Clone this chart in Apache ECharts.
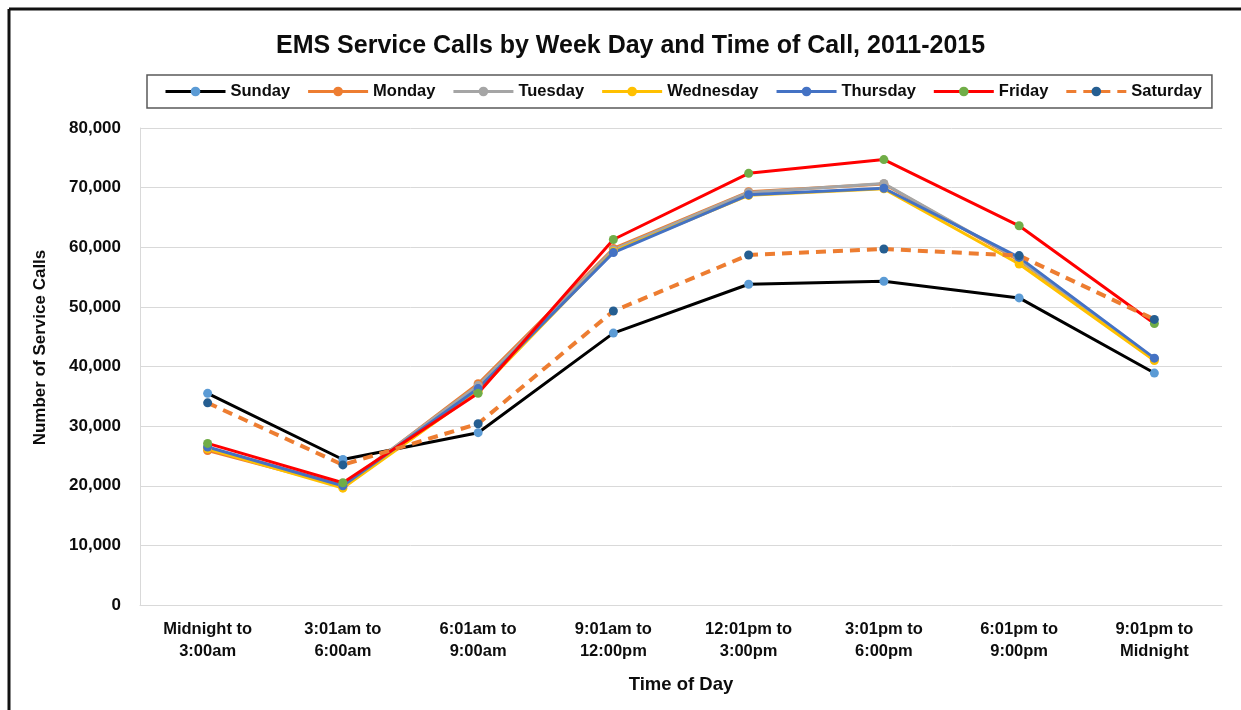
<!DOCTYPE html>
<html>
<head>
<meta charset="utf-8">
<script src="https://cdn.jsdelivr.net/npm/echarts@6/dist/echarts.min.js"></script>
<style>
html,body{margin:0;padding:0;background:#fff;}
#c{width:1241px;height:710px;}
</style>
</head>
<body>
<div id="c"></div>
<script>
const categories = ["Midnight to\n3:00am","3:01am to\n6:00am","6:01am to\n9:00am","9:01am to\n12:00pm","12:01pm to\n3:00pm","3:01pm to\n6:00pm","6:01pm to\n9:00pm","9:01pm to\nMidnight"];
const sunday    = [35500, 24400, 28900, 45600, 53800, 54300, 51500, 38900];
const monday    = [25900, 19900, 37100, 59800, 69300, 70600, 57800, 41200];
const tuesday   = [26400, 20100, 36800, 59600, 69200, 70700, 57900, 41300];
const wednesday = [26200, 19600, 35800, 59300, 68700, 69800, 57200, 41000];
const thursday  = [26500, 20000, 36300, 59100, 68800, 69900, 58300, 41400];
const friday    = [27100, 20500, 35500, 61300, 72400, 74700, 63600, 47200];
const saturday  = [33900, 23500, 30400, 49300, 58700, 59700, 58600, 47900];
const yTicks = [0, 10000, 20000, 30000, 40000, 50000, 60000, 70000, 80000];

const FONT = '"Liberation Sans", Arial, sans-serif';

function mk(name, data, lineColor, markerColor, dashed) {
  return {
    name: name, type: 'line', data: data,
    symbol: 'circle', symbolSize: 9,
    lineStyle: { color: lineColor, width: dashed ? 4 : 3, type: dashed ? [10, 7] : 'solid' },
    itemStyle: { color: markerColor },
    emphasis: { disabled: true },
    animation: false
  };
}

const chart = echarts.init(document.getElementById('c'), null, { renderer: 'canvas' });
chart.setOption({
  backgroundColor: '#fff',
  animation: false,
  textStyle: { fontFamily: FONT },
  title: {
    text: 'EMS Service Calls by Week Day and Time of Call, 2011-2015',
    left: 271, top: 29,
    textStyle: { fontFamily: FONT, fontWeight: 'bold', fontSize: 25, color: '#0d0d0d' }
  },
  legend: {
    left: 147, top: 75,
    padding: [8, 10, 8, 17],
    borderColor: '#595959', borderWidth: 1.5,
    itemWidth: 60, itemHeight: 12, itemGap: 16.5,
    lineStyle: { width: 3 },
    textStyle: { fontFamily: FONT, fontWeight: 'bold', fontSize: 16.5, color: '#0d0d0d' },
    data: ['Sunday','Monday','Tuesday','Wednesday','Thursday','Friday','Saturday']
  },
  grid: { left: 140, right: 19, top: 128, bottom: 105, containLabel: false },
  xAxis: {
    type: 'category', data: categories, boundaryGap: true,
    name: 'Time of Day', nameLocation: 'middle', nameGap: 70,
    nameTextStyle: { fontFamily: FONT, fontWeight: 'bold', fontSize: 18.5, color: '#0d0d0d' },
    axisLine: { lineStyle: { color: '#d9d9d9', width: 1 } },
    axisTick: { show: false },
    axisLabel: { fontFamily: FONT, fontWeight: 'bold', fontSize: 16.5, color: '#0d0d0d', margin: 13, lineHeight: 22, interval: 0 }
  },
  yAxis: {
    type: 'value', min: yTicks[0], max: yTicks[yTicks.length - 1], interval: yTicks[1] - yTicks[0],
    name: 'Number of Service Calls', nameLocation: 'middle', nameGap: 91, nameRotate: 90,
    nameTextStyle: { fontFamily: FONT, fontWeight: 'bold', fontSize: 17, color: '#0d0d0d', padding: [0, 0, 0, 38] },
    axisLine: { show: true, lineStyle: { color: '#d9d9d9', width: 1 } },
    axisTick: { show: false },
    splitLine: { lineStyle: { color: '#d9d9d9', width: 1 } },
    axisLabel: { fontFamily: FONT, fontWeight: 'bold', fontSize: 17, color: '#0d0d0d', margin: 19,
      formatter: function (v) { return v.toLocaleString('en-US'); } }
  },
  graphic: [
    { type: 'line', shape: { x1: 9, y1: 9, x2: 1241, y2: 9 }, style: { stroke: '#111', lineWidth: 3 }, silent: true },
    { type: 'line', shape: { x1: 9, y1: 9, x2: 9, y2: 710 }, style: { stroke: '#111', lineWidth: 3 }, silent: true }
  ],
  series: [
    mk('Sunday', sunday, '#000000', '#5b9bd5', false),
    mk('Monday', monday, '#ed7d31', '#ed7d31', false),
    mk('Tuesday', tuesday, '#a5a5a5', '#a5a5a5', false),
    mk('Wednesday', wednesday, '#ffc000', '#ffc000', false),
    mk('Thursday', thursday, '#4472c4', '#4472c4', false),
    mk('Friday', friday, '#ff0000', '#70ad47', false),
    mk('Saturday', saturday, '#ed7d31', '#255e91', true)
  ]
});
</script>
</body>
</html>
